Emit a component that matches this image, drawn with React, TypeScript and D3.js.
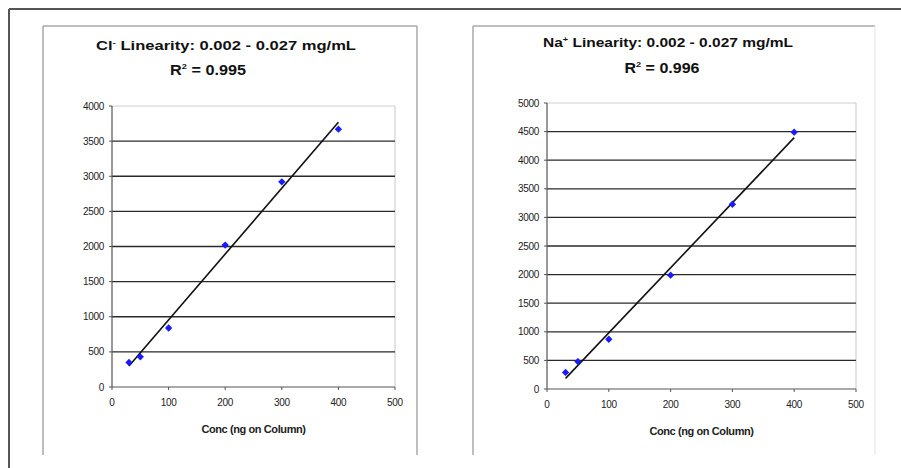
import React from "react";
import * as d3 from "d3";

const concLevels = [30, 50, 100, 200, 300, 400];
const chlorideResponse = [350, 430, 840, 2020, 2920, 3670];
const sodiumResponse = [290, 480, 870, 1990, 3230, 4490];
const xTicks = [0, 100, 200, 300, 400, 500];
const clYTicks = [0, 500, 1000, 1500, 2000, 2500, 3000, 3500, 4000];
const naYTicks = [0, 500, 1000, 1500, 2000, 2500, 3000, 3500, 4000, 4500, 5000];
const clTitle = ["Cl", "-", "  Linearity:  0.002 - 0.027 mg/mL"];
const naTitle = ["Na", "+", " Linearity:  0.002  - 0.027 mg/mL"];
const clR2 = "0.995";
const naR2 = "0.996";
const xAxisLabel = "Conc (ng on Column)";

const FONT = "'Liberation Sans', Arial, sans-serif";

type PanelProps = {
  box: [number, number, number, number];
  plot: [number, number, number, number];
  ys: number[];
  yTicks: number[];
  title: string[];
  r2: string;
  titleY: number;
  r2Y: number;
  titleX: number;
  r2X: number;
  titleLen: number;
  r2Len: number;
  rightBorder: string;
};

function fit(xs: number[], ys: number[]) {
  const mx = d3.mean(xs)!;
  const my = d3.mean(ys)!;
  let sxy = 0, sxx = 0;
  xs.forEach((x, i) => {
    sxy += (x - mx) * (ys[i] - my);
    sxx += (x - mx) * (x - mx);
  });
  const b = sxy / sxx;
  return { b, a: my - b * mx };
}

function Panel(p: PanelProps) {
  const [bx0, by0, bx1, by1] = p.box;
  const [px0, py0, px1, py1] = p.plot;
  const x = d3.scaleLinear().domain([0, 500]).range([px0, px1]);
  const yMax = p.yTicks[p.yTicks.length - 1];
  const y = d3.scaleLinear().domain([0, yMax]).range([py1, py0]);
  const { a, b } = fit(concLevels, p.ys);
  const xMin = d3.min(concLevels)!;
  const xMax = d3.max(concLevels)!;
  const line = d3.line<number>().x((d) => x(d)).y((d) => y(a + b * d));
  const diamond = d3.symbol().type(d3.symbolDiamond2).size(34)();
  return (
    <g>
      <line x1={bx0} y1={by0} x2={bx1} y2={by0} stroke="#a8a8a8" strokeWidth={1.5} />
      <line x1={bx0} y1={by0} x2={bx0} y2={by1} stroke="#a8a8a8" strokeWidth={1.5} />
      <line x1={bx1} y1={by0} x2={bx1} y2={by1} stroke={p.rightBorder} strokeWidth={1.5} />
      <text x={p.titleX} y={p.titleY} textAnchor="middle" fontFamily={FONT} fontWeight="bold" fontSize={13.5} fill="#111"
        textLength={p.titleLen} lengthAdjust="spacingAndGlyphs">
        {p.title[0]}
        <tspan dy={-5} fontSize={8}>{p.title[1]}</tspan>
        <tspan dy={5}>{p.title[2]}</tspan>
      </text>
      <text x={p.r2X} y={p.r2Y} textAnchor="middle" fontFamily={FONT} fontWeight="bold" fontSize={14} fill="#111"
        textLength={p.r2Len} lengthAdjust="spacingAndGlyphs">
        R<tspan dy={-6} fontSize={8}>2</tspan>
        <tspan dy={6}> = {p.r2}</tspan>
      </text>
      {/* plot frame */}
      <line x1={px0} y1={py0} x2={px1} y2={py0} stroke="#d0d0d0" strokeWidth={1.2} />
      <line x1={px1} y1={py0} x2={px1} y2={py1} stroke="#d0d0d0" strokeWidth={1.2} />
      {/* gridlines */}
      {p.yTicks.slice(1, -1).map((t) => (
        <line key={"g" + t} x1={px0} x2={px1} y1={y(t)} y2={y(t)} stroke="#2a2a2a" strokeWidth={1.3} />
      ))}
      {/* axes */}
      <line x1={px0} y1={py0} x2={px0} y2={py1} stroke="#555" strokeWidth={1.2} />
      <line x1={px0} y1={py1} x2={px1} y2={py1} stroke="#555" strokeWidth={1.2} />
      {p.yTicks.map((t) => (
        <g key={"y" + t}>
          <line x1={px0 - 3} x2={px0} y1={y(t)} y2={y(t)} stroke="#555" />
          <text x={px0 - 8} y={y(t)} dy="0.35em" textAnchor="end" fontFamily={FONT} fontSize={10} fill="#222" letterSpacing={-0.3}>
            {t}
          </text>
        </g>
      ))}
      {xTicks.map((t) => (
        <g key={"x" + t}>
          <line x1={x(t)} x2={x(t)} y1={py1} y2={py1 + 3} stroke="#555" />
          <text x={x(t)} y={py1 + 19} textAnchor="middle" fontFamily={FONT} fontSize={10} fill="#222" letterSpacing={-0.3}>
            {t}
          </text>
        </g>
      ))}
      <text x={(px0 + px1) / 2} y={py1 + 46} textAnchor="middle" fontFamily={FONT} fontWeight="bold" fontSize={11} fill="#222" letterSpacing={-0.4}>
        {xAxisLabel}
      </text>
      {/* trendline */}
      <path d={line([xMin, xMax])!} stroke="#111" strokeWidth={1.6} fill="none" />
      {/* markers */}
      {concLevels.map((c, i) => (
        <path key={"m" + i} d={diamond!} transform={`translate(${x(c)},${y(p.ys[i])})`} fill="#1a1aff" />
      ))}
    </g>
  );
}

export default function App() {
  return (
    <svg width={901} height={468} style={{ position: "absolute", left: 0, top: 0, background: "#fff" }}>
      <rect x={0} y={0} width={901} height={468} fill="#fff" />
      <line x1={9} y1={9} x2={901} y2={9} stroke="#555" strokeWidth={2} />
      <line x1={9} y1={9} x2={9} y2={468} stroke="#555" strokeWidth={2} />
      <Panel
        box={[43, 26, 417, 455]}
        plot={[112, 106, 395, 387]}
        ys={chlorideResponse}
        yTicks={clYTicks}
        title={clTitle}
        r2={clR2}
        titleX={226}
        titleY={50}
        r2X={208}
        r2Y={75}
        titleLen={260}
        r2Len={76}
        rightBorder="#a8a8a8"
      />
      <Panel
        box={[473, 26, 875, 455]}
        plot={[547, 103, 856, 389]}
        ys={sodiumResponse}
        yTicks={naYTicks}
        title={naTitle}
        r2={naR2}
        titleX={668}
        titleY={47}
        r2X={662}
        r2Y={73}
        titleLen={250}
        r2Len={75}
        rightBorder="#eeeeee"
      />
    </svg>
  );
}
